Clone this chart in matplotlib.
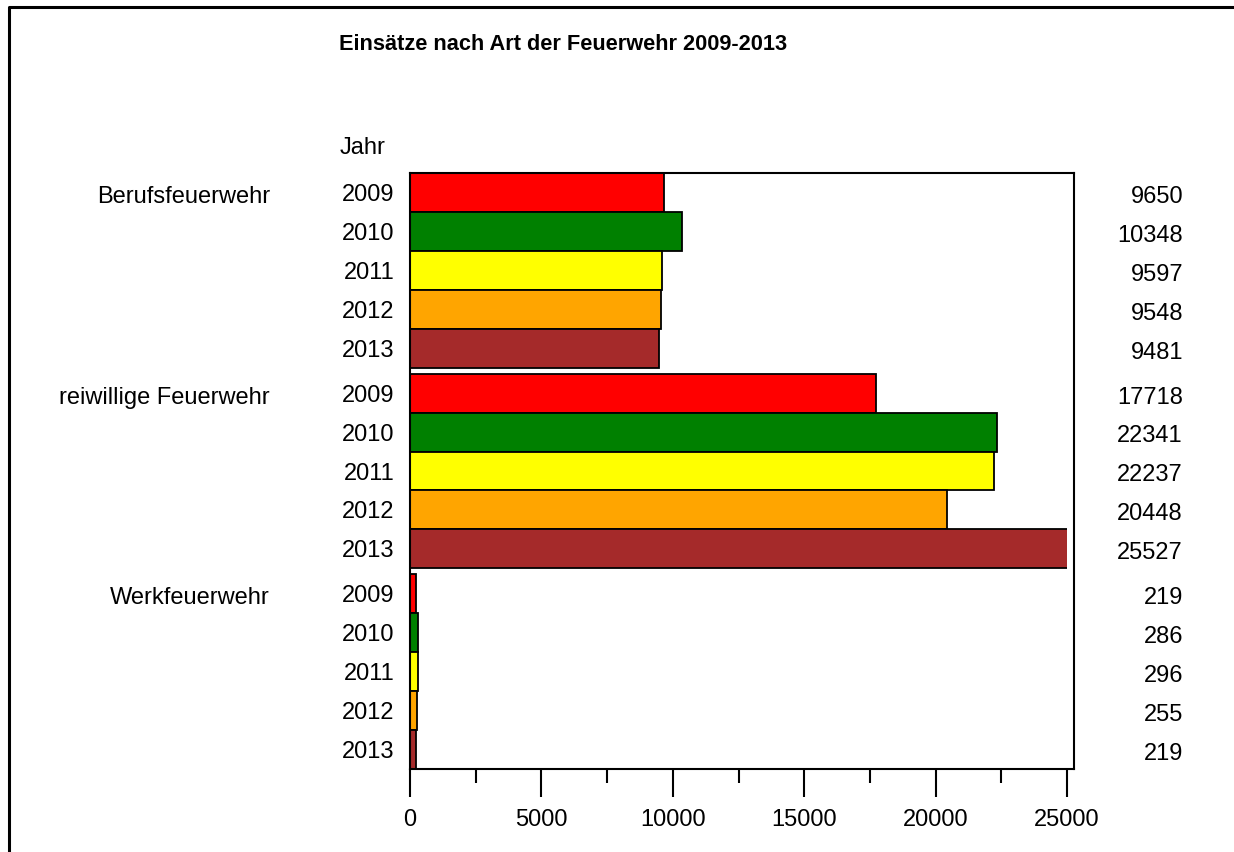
import matplotlib.pyplot as plt
from matplotlib.lines import Line2D
from matplotlib.patches import Rectangle
from matplotlib.ticker import MultipleLocator
import matplotlib.transforms as mtransforms

plt.rcParams['font.family'] = ['Liberation Sans', 'DejaVu Sans']

# Daten
gruppen = ["Berufsfeuerwehr", "reiwillige Feuerwehr", "Werkfeuerwehr"]
jahre = ["2009", "2010", "2011", "2012", "2013"]
berufs = [9650, 10348, 9597, 9548, 9481]
freiwillig = [17718, 22341, 22237, 20448, 25527]
werk = [219, 286, 296, 255, 219]
farben = ["#FF0000", "#008000", "#FFFF00", "#FFA500", "#A52A2A"]

werte = [berufs, freiwillig, werk]
luecke = 0.15
fs = 17

fig = plt.figure(figsize=(12.34, 8.52), dpi=100)
ax = fig.add_axes([410 / 1234, 1 - 769 / 852, 664 / 1234, 596 / 852])
mix = mtransforms.blended_transform_factory(fig.transFigure, ax.transData)

# Balken werden bei 25000 abgeschnitten, wie im Original
x_max = 25266
clip = Rectangle((0, 0), 25000 / x_max, 1, transform=ax.transAxes, visible=False)
ax.add_patch(clip)

positionen = []
labels = []
for g, reihe in enumerate(werte):
    for i, wert in enumerate(reihe):
        y = g * (5 + luecke) + i + 0.5
        b = ax.barh(y, wert, height=1.0, color=farben[i], edgecolor="black", linewidth=1.3)
        for p in b:
            p.set_clip_path(clip)
        positionen.append(y)
        labels.append(jahre[i])
        # Wert rechts neben dem Diagramm
        ax.text(1183 / 1234, y + 0.05, str(wert), transform=mix,
                ha="right", va="center_baseline", fontsize=fs)
    ax.text(270 / 1234, g * (5 + luecke) + 0.55, gruppen[g], transform=mix,
            ha="right", va="center_baseline", fontsize=fs)

ax.set_ylim(3 * 5 + 2 * luecke, 0)
ax.set_xlim(0, x_max)
ax.set_yticks(positionen)
ax.set_yticklabels(labels, fontsize=fs, va="center_baseline")
ax.tick_params(axis="y", length=0, pad=11)

ax.xaxis.set_major_locator(MultipleLocator(5000))
ax.xaxis.set_minor_locator(MultipleLocator(2500))
ax.tick_params(axis="x", which="major", length=20, width=1.5, labelsize=fs, pad=9)
ax.tick_params(axis="x", which="minor", length=10, width=1.5)
for s in ax.spines.values():
    s.set_linewidth(1.5)

fig.text(563 / 1234, 1 - 45 / 852, "Einsätze nach Art der Feuerwehr 2009-2013",
         ha="center", va="center", fontsize=15.7, fontweight="bold")
fig.text(340 / 1234, 1 - 148 / 852, "Jahr", ha="left", va="center", fontsize=fs)

# Rahmen (nur links und oben sichtbar)
fig.add_artist(Line2D([9 / 1234, 9 / 1234, 1], [0, 1 - 7 / 852, 1 - 7 / 852],
                      transform=fig.transFigure, color="black", linewidth=2.2))

fig.savefig("out.png", dpi=100)
